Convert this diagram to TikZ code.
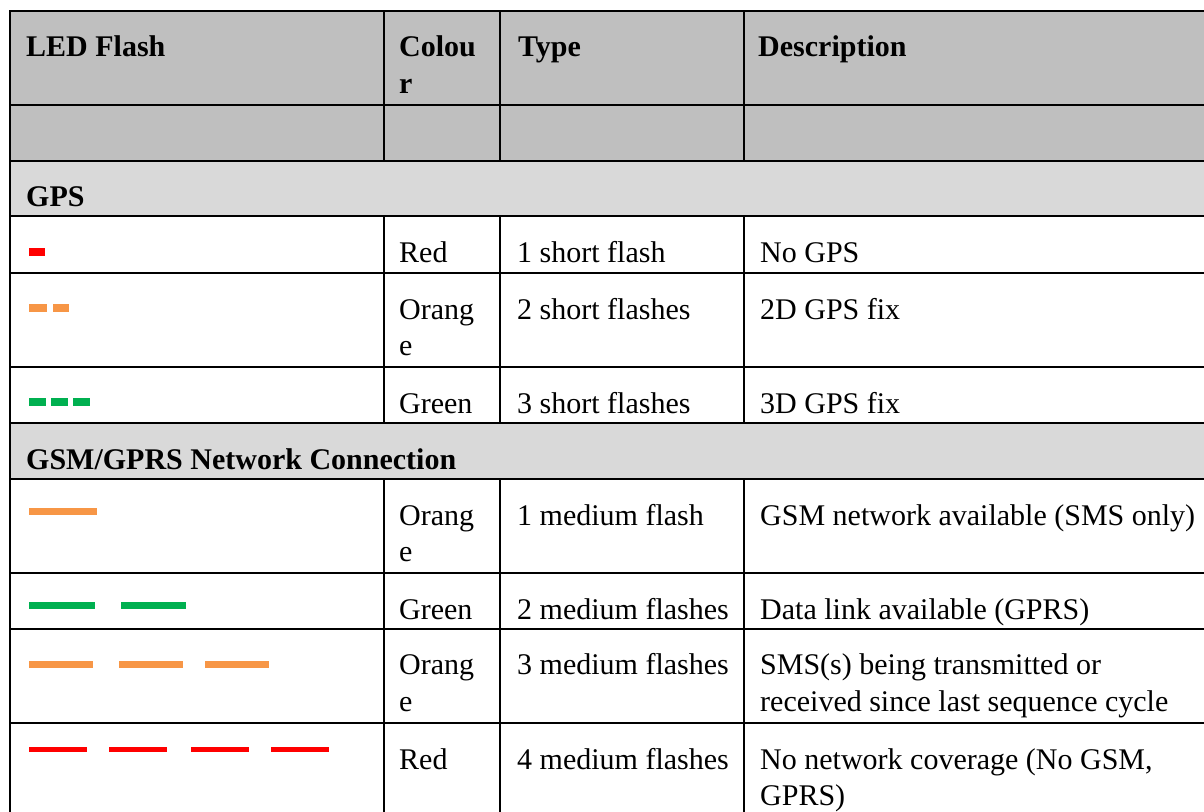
\documentclass[tikz,border=0pt]{standalone}
\usepackage{fontspec}
\setmainfont{Liberation Serif}
\definecolor{hdr}{HTML}{BFBFBF}
\definecolor{sec}{HTML}{D9D9D9}
\definecolor{ledred}{HTML}{FF0000}
\definecolor{ledorange}{HTML}{F79646}
\definecolor{ledgreen}{HTML}{00B050}
\tikzset{
  cell/.style={anchor=base west, inner sep=0pt, yshift=-1pt, font=\fontsize{30}{36}\selectfont},
  hcell/.style={anchor=base west, inner sep=0pt, yshift=-1pt, font=\fontsize{30}{36}\selectfont\bfseries},
  gridline/.style={line width=1.5pt, black},
}
\begin{document}
\begin{tikzpicture}[x=1pt,y=-1pt]
\useasboundingbox (0,0) rectangle (1204,811);
\begin{scope}
\clip (0,0) rectangle (1204,811);
\fill[hdr] (10,11) rectangle (1210,161);
\fill[sec] (10,161) rectangle (1210,216);
\fill[sec] (10,423) rectangle (1210,479);
\foreach \y in {11,105,161,216,273,367,423,479,573,629,723}
  \draw[gridline] (10,\y) -- (1210,\y);
\draw[gridline] (10,10.25) -- (10,815);
\foreach \x in {384,500,744} {
  \draw[gridline] (\x,11) -- (\x,161);
  \draw[gridline] (\x,216) -- (\x,423);
  \draw[gridline] (\x,479) -- (\x,815);
}
\end{scope}

% header
\node[hcell] (h1) at (26,55.5) {LED Flash};
\node[hcell] (h2a) at (399,55.5) {Colou};
\node[hcell] (h2b) at (399,92) {r};
\node[hcell] (h3) at (518,55.5) {Type};
\node[hcell] (h4) at (758,55.5) {Description};
\node[hcell] (s1) at (26,205.5) {GPS};

% GPS rows
\node[cell] (r1c2) at (399,261.5) {Red};
\node[cell] (r1c3) at (517,261.5) {1 short flash};
\node[cell] (r1c4) at (760,261.5) {No GPS};
\node[cell] (r2c2a) at (399,318) {Orang};
\node[cell] (r2c2b) at (399,354) {e};
\node[cell] (r2c3) at (517,318) {2 short flashes};
\node[cell] (r2c4) at (760,318) {2D GPS fix};
\node[cell] (r3c2) at (399,412) {Green};
\node[cell] (r3c3) at (517,412) {3 short flashes};
\node[cell] (r3c4) at (760,412) {3D GPS fix};

\node[hcell] (s2) at (26,468.5) {GSM/GPRS Network Connection};

% GSM rows
\node[cell] (r4c2a) at (399,524) {Orang};
\node[cell] (r4c2b) at (399,560.5) {e};
\node[cell] (r4c3) at (517,524) {1 medium flash};
\node[cell] (r4c4) at (760,524) {GSM network available (SMS only)};
\node[cell] (r5c2) at (399,618) {Green};
\node[cell] (r5c3) at (517,618) {2 medium flashes};
\node[cell] (r5c4) at (760,618) {Data link available (GPRS)};
\node[cell] (r6c2a) at (399,673.5) {Orang};
\node[cell] (r6c2b) at (399,710) {e};
\node[cell] (r6c3) at (517,673.5) {3 medium flashes};
\node[cell] (r6c4a) at (760,673.5) {SMS(s) being transmitted or};
\node[cell] (r6c4b) at (760,710) {received since last sequence cycle};
\node[cell] (r7c2) at (399,768) {Red};
\node[cell] (r7c3) at (517,768) {4 medium flashes};
\node[cell] (r7c4a) at (760,768) {No network coverage (No GSM,};
\node[cell] (r7c4b) at (760,804) {GPRS)};

% LED symbols
\fill[ledred] (29,248) rectangle (45,256);
\fill[ledorange] (29,304) rectangle (47,312);
\fill[ledorange] (53,304) rectangle (69,312);
\fill[ledgreen] (29,398) rectangle (45.5,406);
\fill[ledgreen] (51,398) rectangle (68,406);
\fill[ledgreen] (73,398) rectangle (90,406);
\fill[ledorange] (29,508) rectangle (97,515);
\fill[ledgreen] (29,602) rectangle (94.5,609);
\fill[ledgreen] (120.5,602) rectangle (186,609);
\fill[ledorange] (29,661) rectangle (93,668);
\fill[ledorange] (118.5,661) rectangle (183,668);
\fill[ledorange] (204.5,661) rectangle (269,668);
\fill[ledred] (29,746.5) rectangle (87,752);
\fill[ledred] (109,746.5) rectangle (166.5,752);
\fill[ledred] (191,746.5) rectangle (248.5,752);
\fill[ledred] (271,746.5) rectangle (329,752);
\end{tikzpicture}
\end{document}
